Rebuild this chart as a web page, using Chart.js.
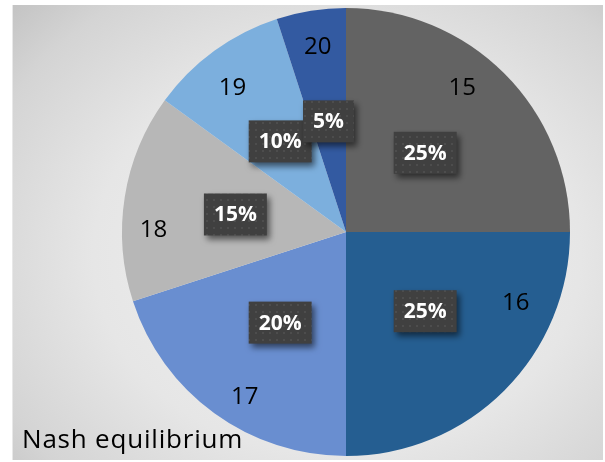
<!DOCTYPE html>
<html><head><meta charset="utf-8">
<script src="https://cdn.jsdelivr.net/npm/chart.js@4"></script>
<style>
html,body{margin:0;padding:0;background:#fff;}
#wrap{position:relative;width:605px;height:462px;}
#bg{position:absolute;left:12px;top:5px;width:591px;height:455px;
background:radial-gradient(ellipse 75% 80% at 55% 55%, #f2f2f2 0%, #e6e6e6 55%, #d4d4d4 85%, #c4c4c4 100%);}
#bg:before{content:"";position:absolute;left:0;top:0;width:1px;height:100%;background:#e8e8e8;}
canvas{position:absolute;left:0;top:0;}
</style></head>
<body><div id="wrap"><div id="bg"></div><canvas id="c" width="605" height="462"></canvas></div>
<script>
const categories = ['15','16','17','18','19','20'];
const values = [25,25,20,15,10,5];
const colors = ['#636363','#255e91','#698ed0','#b7b7b7','#7cafdd','#335aa1'];
const titleText = 'Nash equilibrium';

// label placement (fraction along arc, fraction of radius)
const catAngleFrac = [0.43,0.25,0.44,0.35,0.44,0.52];
const catRadFrac = [0.83,0.82,0.86,0.86,0.82,0.84];

function makePattern(ctx){
  const p=document.createElement('canvas');p.width=7;p.height=7;
  const g=p.getContext('2d');
  g.fillStyle='#404040';g.fillRect(0,0,7,7);
  g.fillStyle='#4d4d4d';g.fillRect(3,3,2,2);
  return ctx.createPattern(p,'repeat');
}

const labelPlugin={
  id:'labelPlugin',
  afterDatasetsDraw(chart){
    const ctx=chart.ctx;
    const meta=chart.getDatasetMeta(0);
    const total=values.reduce((a,b)=>a+b,0);
    const pat=makePattern(ctx);
    meta.data.forEach((arc,i)=>{
      const {x,y,startAngle,endAngle,outerRadius}=arc.getProps(['x','y','startAngle','endAngle','outerRadius'],true);
      const a=startAngle+catAngleFrac[i]*(endAngle-startAngle);
      const r=outerRadius*catRadFrac[i];
      ctx.save();
      ctx.font='24px "Open Sans"';
      ctx.fillStyle='#000';ctx.textAlign='center';ctx.textBaseline='middle';
      ctx.fillText(categories[i],x+Math.cos(a)*r,y+Math.sin(a)*r+1);
      ctx.restore();
      const m=(startAngle+endAngle)/2;
      const pr=outerRadius*0.5;
      const px=x+Math.cos(m)*pr, py=y+Math.sin(m)*pr;
      const txt=Math.round(values[i]/total*100)+'%';
      ctx.save();
      ctx.font='bold 21px "Open Sans"';
      const w=ctx.measureText(txt).width+20, h=42;
      ctx.shadowColor='rgba(0,0,0,0.55)';ctx.shadowBlur=6;ctx.shadowOffsetX=3;ctx.shadowOffsetY=4;
      ctx.fillStyle=pat;
      ctx.fillRect(px-w/2,py-h/2,w,h);
      ctx.shadowColor='transparent';
      ctx.fillStyle='#fff';ctx.textAlign='center';ctx.textBaseline='middle';
      ctx.fillText(txt,px,py+1);
      ctx.restore();
    });
    ctx.save();
    ctx.font='26px "Open Sans"';ctx.fillStyle='#000';ctx.textAlign='left';ctx.textBaseline='alphabetic';
    if('letterSpacing' in ctx) ctx.letterSpacing='0.8px';
    ctx.fillText(titleText,22,448);
    ctx.restore();
  }
};

new Chart(document.getElementById('c'),{
  type:'pie',
  data:{labels:categories,datasets:[{data:values,backgroundColor:colors,borderWidth:0}]},
  options:{
    responsive:false,animation:false,
    layout:{padding:{left:100,right:13,top:8,bottom:6}},
    plugins:{legend:{display:false},tooltip:{enabled:false},title:{display:false}}
  },
  plugins:[labelPlugin]
});
</script></body></html>
